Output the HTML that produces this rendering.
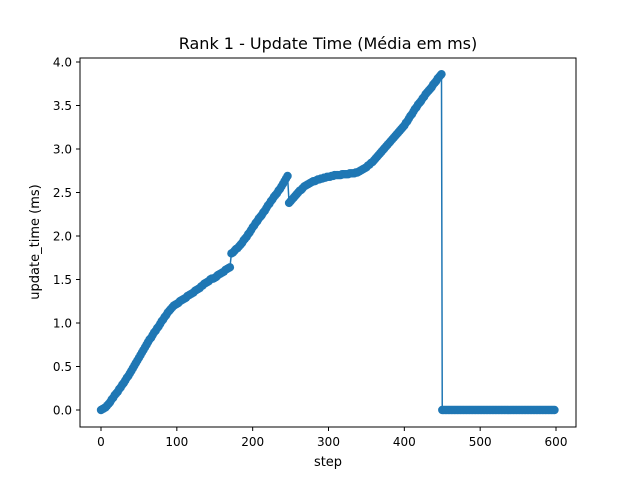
<!DOCTYPE html>
<html><head><meta charset="utf-8"><style>
body{margin:0;background:#fff;}
svg{display:block;font-family:"DejaVu Sans","Liberation Sans",sans-serif;}
</style></head><body>
<svg id="chart" width="640" height="480">
<rect width="640" height="480" fill="#fff"/>
<text x="328" y="49" font-size="16" text-anchor="middle">Rank 1 - Update Time (Média em ms)</text>
<g id="plot"></g>
<rect x="80" y="58" width="496" height="369" fill="none" stroke="#000" stroke-width="1"/>
<text x="328" y="466" font-size="13" text-anchor="middle">step</text>
<text transform="translate(39,242) rotate(-90)" font-size="13" text-anchor="middle">update_time (ms)</text>
</svg>
<script>
const risingSteps = (function(){const a=[];for(let s=0;s<=448;s+=2)a.push(s);a.push(449);return a;})();
const flatSteps = (function(){const a=[];for(let s=450;s<=598;s+=2)a.push(s);return a;})();
const steps = risingSteps.concat(flatSteps);
const values = [0,0.01,0.02,0.03,0.05,0.07,0.09,0.12,0.14,0.17,0.19,0.21,0.24,0.26,0.29,0.31,0.34,0.37,0.39,0.42,0.45,0.48,0.51,0.54,0.57,0.6,0.63,0.66,0.69,0.72,0.75,0.78,0.81,0.83,0.86,0.89,0.91,0.94,0.96,0.99,1.02,1.04,1.07,1.09,1.12,1.14,1.16,1.18,1.2,1.21,1.22,1.23,1.25,1.26,1.27,1.28,1.29,1.31,1.32,1.33,1.34,1.35,1.37,1.38,1.39,1.4,1.42,1.43,1.45,1.46,1.47,1.48,1.5,1.51,1.51,1.52,1.53,1.55,1.56,1.57,1.58,1.59,1.61,1.62,1.63,1.64,1.8,1.81,1.83,1.85,1.86,1.88,1.9,1.92,1.95,1.97,1.99,2.02,2.04,2.07,2.1,2.12,2.15,2.17,2.2,2.22,2.24,2.27,2.29,2.32,2.35,2.37,2.4,2.42,2.45,2.47,2.49,2.52,2.54,2.57,2.6,2.63,2.66,2.69,2.38,2.4,2.42,2.44,2.46,2.48,2.5,2.52,2.53,2.55,2.57,2.58,2.59,2.6,2.61,2.62,2.63,2.63,2.64,2.65,2.65,2.66,2.66,2.67,2.67,2.68,2.68,2.68,2.69,2.69,2.7,2.7,2.7,2.7,2.7,2.71,2.71,2.71,2.71,2.71,2.72,2.72,2.72,2.72,2.73,2.73,2.74,2.75,2.76,2.77,2.78,2.79,2.81,2.82,2.84,2.85,2.87,2.89,2.91,2.93,2.95,2.97,2.99,3.01,3.03,3.05,3.07,3.09,3.11,3.13,3.15,3.17,3.19,3.21,3.23,3.25,3.27,3.3,3.32,3.35,3.38,3.4,3.43,3.46,3.48,3.51,3.53,3.55,3.58,3.6,3.63,3.65,3.67,3.69,3.71,3.74,3.76,3.78,3.81,3.83,3.85,3.86,
0,0,0,0,0,0,0,0,0,0,0,0,0,0,0,0,0,0,0,0,0,0,0,0,0,0,0,0,0,0,0,0,0,0,0,0,0,0,0,0,0,0,0,0,0,0,0,0,0,0,0,0,0,0,0,0,0,0,0,0,0,0,0,0,0,0,0,0,0,0,0,0,0,0,0];
const xTicks = [0,100,200,300,400,500,600];
const yTicks = [0.0,0.5,1.0,1.5,2.0,2.5,3.0,3.5,4.0];

const NS="http://www.w3.org/2000/svg";
const xs = v => 101 + v*(455/600);
const ys = v => 410 - v*87;
const g = document.getElementById('plot');
function mk(t,a){const e=document.createElementNS(NS,t);for(const k in a)e.setAttribute(k,a[k]);return e;}
xTicks.forEach(t=>{
  const l=mk('line',{x1:xs(t),x2:xs(t),y1:427,y2:431,stroke:'#000'});
  
  
  g.appendChild(l);
  const tx=mk('text',{x:xs(t),y:446,'font-size':12,'text-anchor':'middle'});
  
  
  tx.textContent=t;g.appendChild(tx);
});
yTicks.forEach(t=>{
  const l=mk('line',{x1:76,x2:80,y1:ys(t),y2:ys(t),stroke:'#000'});
  
  
  g.appendChild(l);
  const tx=mk('text',{x:72,y:ys(t)+4.5,'font-size':12,'text-anchor':'end'});
  
  
  tx.textContent=t.toFixed(1);g.appendChild(tx);
});
const n=Math.min(steps.length,values.length);
const pts=[];
for(let i=0;i<n;i++)pts.push(xs(steps[i])+','+ys(values[i]));
const line=mk('polyline',{points:pts.join(' '),fill:'none',stroke:'#1f77b4','stroke-width':1.5});


g.appendChild(line);
for(let i=0;i<n;i++){
  const c=mk('circle',{cx:xs(steps[i]),cy:ys(values[i]),r:4.2,fill:'#1f77b4'});
  
  
  g.appendChild(c);
}
</script>
</body></html>
